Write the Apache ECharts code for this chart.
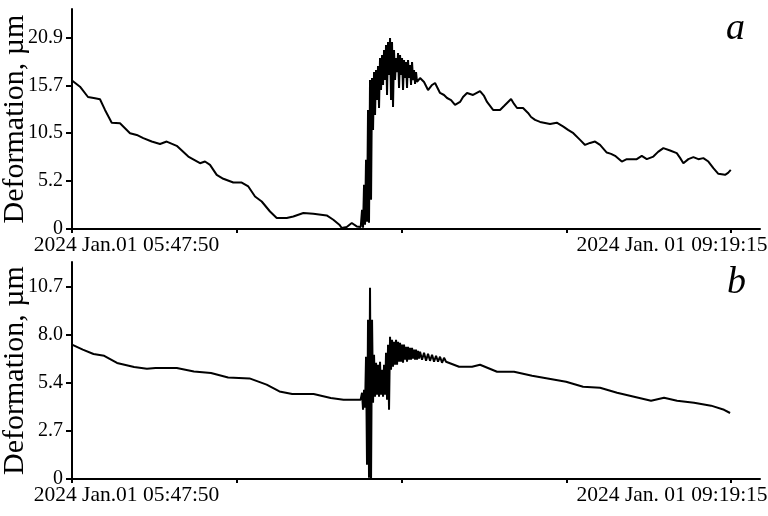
<!DOCTYPE html>
<html>
<head>
<meta charset="utf-8">
<script src="https://cdn.jsdelivr.net/npm/echarts@6/dist/echarts.min.js"></script>
<style>html,body{margin:0;padding:0;background:#fff}#c{width:768px;height:516px}</style>
</head>
<body>
<div id="c"></div>
<script>
// time in minutes since 2024 Jan.01 05:47:50
var timeA = [0, 2.57, 5.13, 7.38, 8.98, 10.59, 12.74, 15.40, 18.61, 20.76, 22.87, 25.57, 28.23, 30.38, 33.59, 37.31, 41.06, 42.67, 44.27, 46.42, 48.54, 51.75, 54.44, 56.56, 58.71, 60.86, 63.52, 65.67, 68.88, 71.00, 74.21, 77.41, 81.71, 83.83, 85.76, 86.53, 88.13, 89.74, 91.34, 92.62,
  93.04, 93.36, 93.68, 94.00, 94.32, 94.64, 94.96, 95.28, 95.60, 95.93, 96.25, 96.57, 96.89, 97.21, 97.53, 97.85, 98.17, 98.49, 98.81, 99.13, 99.46, 99.78, 100.10, 100.42, 100.74, 101.06, 101.38, 101.70, 102.02, 102.34, 102.66, 102.98, 103.30, 103.63, 103.95, 104.27, 104.59, 104.91, 105.23, 105.55, 105.87, 106.19, 106.51, 106.83, 107.15, 107.47, 107.79, 108.12, 108.44, 108.76, 109.08, 109.40, 109.72, 110.04, 110.36, 110.68,
  111.65, 112.93, 114.21, 115.50, 116.46, 118.06, 119.34, 120.31, 121.59, 122.87, 124.48, 125.44, 126.72, 128.65, 130.89, 132.18, 133.14, 135.07, 137.31, 138.59, 139.56, 140.84, 141.80, 142.76, 144.69, 146.29, 147.26, 148.54, 150.14, 151.75, 153.35, 155.50, 157.62, 159.13, 160.83, 162.98, 164.58, 166.18, 167.79, 169.39, 171.54, 172.92, 174.21, 176.36, 177.96, 179.34, 181.17, 182.77, 184.38, 186.49, 188.00, 189.70, 191.85, 194.00, 195.06, 196.12, 197.72, 199.33, 200.93, 202.53, 204.14, 205.74, 207.34, 209.49, 210.46, 211.32];
var valueA = [16.2, 15.52, 14.40, 14.26, 14.15, 12.99, 11.60, 11.54, 10.45, 10.26, 9.91, 9.54, 9.28, 9.54, 9.07, 7.90, 7.18, 7.36, 7.00, 5.91, 5.48, 5.07, 5.07, 4.64, 3.55, 3.00, 1.91, 1.20, 1.20, 1.37, 1.74, 1.67, 1.48, 1.01, 0.47, 0.11, 0.22, 0.65, 0.28, 0.22,
  2.10, 0.14, 4.82, 0.47, 7.54, 0.79, 12.99, 0.69, 16.25, 3.19, 16.47, 10.81, 17.12, 12.44, 17.34, 14.07, 17.77, 13.20, 18.65, 15.16, 18.97, 15.71, 19.52, 16.25, 20.06, 14.62, 20.39, 16.80, 20.83, 14.07, 20.39, 13.31, 19.52, 16.25, 18.65, 17.12, 19.19, 15.38, 18.97, 16.80, 18.65, 15.16, 18.43, 16.47, 18.21, 15.38, 18.43, 16.47, 17.88, 15.71, 18.21, 16.25, 17.34, 15.82, 17.12, 16.04,
  16.47, 16.04, 15.16, 15.71, 15.93, 14.84, 14.62, 14.29, 14.07, 13.53, 13.86, 14.40, 14.84, 14.62, 15.05, 14.51, 13.86, 12.99, 12.99, 13.42, 13.75, 14.18, 13.64, 13.20, 13.20, 12.66, 12.22, 11.90, 11.68, 11.57, 11.46, 11.60, 11.17, 10.81, 10.45, 9.72, 9.17, 9.39, 9.54, 9.17, 8.34, 8.20, 7.98, 7.36, 7.62, 7.62, 7.62, 7.98, 7.62, 7.90, 8.41, 8.82, 8.56, 8.27, 7.76, 7.18, 7.62, 7.84, 7.62, 7.73, 7.36, 6.64, 6.02, 5.91, 6.13, 6.45];

var timeB = [0, 3.46, 6.90, 10.33, 14.44, 19.92, 24.03, 26.79, 33.62, 39.11, 44.59, 50.08, 56.95, 62.43, 66.54, 70.64, 77.51, 83.00, 87.10, 92.59,
  93.04, 93.36, 93.68, 94.00, 94.32, 94.64, 94.96, 95.28, 95.60, 95.93, 96.25, 96.57, 96.89, 97.21, 97.53, 97.85, 98.17, 98.49, 98.81, 99.13, 99.46, 99.78, 100.10, 100.42, 100.74, 101.06, 101.38, 101.70, 102.02, 102.34, 102.66, 102.98, 103.30, 103.63, 103.95, 104.27, 104.59, 104.91, 105.23, 105.55, 105.87, 106.19, 106.51, 106.83, 107.15, 107.47, 107.79, 108.12, 108.44, 108.76, 109.08, 109.40, 109.72, 110.04, 110.36, 110.68, 111.00, 111.33, 111.65,
  112.29, 112.93, 113.57, 114.21, 114.85, 115.50, 116.14, 116.78, 117.42, 118.06, 118.70, 119.34, 119.99,
  124.16, 128.33, 130.89, 136.35, 141.80, 147.58, 153.03, 158.49, 163.94, 169.39, 174.85, 180.30, 185.75, 189.92, 194.09, 199.55, 205.00, 209.17, 211.10];
var valueB = [7.49, 7.21, 6.97, 6.87, 6.47, 6.24, 6.15, 6.19, 6.19, 6.00, 5.91, 5.66, 5.61, 5.26, 4.88, 4.74, 4.74, 4.52, 4.42, 4.42,
  4.81, 3.86, 4.98, 3.97, 6.82, 0.80, 8.88, 0.07, 10.67, 0.00, 8.88, 4.25, 6.93, 4.59, 6.48, 4.70, 6.37, 4.59, 6.54, 4.70, 6.09, 4.59, 6.37, 4.70, 7.04, 4.42, 7.49, 3.86, 7.93, 6.09, 7.76, 6.26, 7.65, 6.37, 7.76, 6.37, 7.65, 6.54, 7.60, 6.54, 7.49, 6.48, 7.49, 6.65, 7.37, 6.54, 7.37, 6.65, 7.32, 6.65, 7.32, 6.71, 7.21, 6.65, 7.21, 6.65, 7.15, 6.71, 7.10,
  6.65, 7.04, 6.59, 6.98, 6.59, 6.93, 6.54, 6.87, 6.54, 6.82, 6.48, 6.76, 6.54,
  6.26, 6.26, 6.37, 5.98, 5.98, 5.76, 5.59, 5.42, 5.14, 5.09, 4.81, 4.59, 4.36, 4.53, 4.36, 4.25, 4.09, 3.86, 3.68];

var xTicks = [0, 52.854, 105.708, 158.5625, 211.4167];
var xLabelValues = [0, 211.4167];
var xLabels = ['2024 Jan.01 05:47:50', '2024 Jan. 01 09:19:15'];
var yTicksA = [0, 5.225, 10.45, 15.675, 20.9];
var yLabelsA = ['0', '5.2', '10.5', '15.7', '20.9'];
var yTicksB = [0, 2.675, 5.35, 8.025, 10.7];
var yLabelsB = ['0', '2.7', '5.4', '8.0', '10.7'];
var panelLetters = ['a', 'b'];
var yName = 'Deformation, \u00b5m';

function pairs(t, v) {
  var out = [];
  var n = Math.min(t.length, v.length);
  for (var i = 0; i < n; i++) out.push([t[i], v[i]]);
  return out;
}
function lookup(ticks, labels) {
  return function (val) {
    var best = 0, d = Infinity;
    for (var i = 0; i < ticks.length; i++) {
      var dd = Math.abs(ticks[i] - val);
      if (dd < d) { d = dd; best = i; }
    }
    return labels[best];
  };
}
var FONT = '"Liberation Serif", "Times New Roman", serif';
var black = '#000';

function makeX(gridIndex) {
  return {
    type: 'value', gridIndex: gridIndex, min: 0, max: 220.7,
    axisLine: { show: true, onZero: false, lineStyle: { color: black, width: 2 } },
    axisTick: { show: true, inside: false, length: 4, customValues: xTicks, lineStyle: { color: black, width: 2 } },
    splitLine: { show: false },
    axisLabel: {
      show: true, customValues: xLabelValues, margin: 5,
      color: black, fontFamily: FONT, fontSize: 21.5,
      formatter: function (v) {
        return Math.abs(v) < 1e-6 ? '{f|' + xLabels[0] + '}' : '{l|' + xLabels[1] + '}';
      },
      rich: {
        f: { padding: [0, 0, 0, 109], color: black, fontFamily: FONT, fontSize: 21.5 },
        l: { padding: [0, 118, 0, 0], color: black, fontFamily: FONT, fontSize: 21.5 }
      }
    }
  };
}
function makeY(gridIndex, max, ticks, labels) {
  return {
    type: 'value', gridIndex: gridIndex, min: 0, max: max,
    name: yName, nameLocation: 'middle', nameGap: 42, nameMoveOverlap: false,
    nameTextStyle: { color: black, fontFamily: FONT, fontSize: 30 },
    axisLine: { show: true, onZero: false, lineStyle: { color: black, width: 2 } },
    axisTick: { show: true, inside: false, length: 6, customValues: ticks, lineStyle: { color: black, width: 2 } },
    splitLine: { show: false },
    axisLabel: {
      show: true, customValues: ticks, margin: 9,
      color: black, fontFamily: FONT, fontSize: 20,
      formatter: lookup(ticks, labels)
    }
  };
}

var chart = echarts.init(document.getElementById('c'), null, { renderer: 'canvas' });
chart.setOption({
  animation: false,
  backgroundColor: '#fff',
  grid: [
    { left: 72, top: 9, width: 688, height: 220, containLabel: false, outerBoundsMode: 'none' },
    { left: 72, top: 262, width: 688, height: 217, containLabel: false, outerBoundsMode: 'none' }
  ],
  xAxis: [makeX(0), makeX(1)],
  yAxis: [makeY(0, 24, yTicksA, yLabelsA), makeY(1, 12.1, yTicksB, yLabelsB)],
  graphic: [
    { type: 'text', left: 726, top: 10, style: { text: panelLetters[0], font: 'italic 38px ' + FONT, fill: black } },
    { type: 'text', left: 727, top: 264, style: { text: panelLetters[1], font: 'italic 38px ' + FONT, fill: black } }
  ],
  series: [
    { type: 'line', xAxisIndex: 0, yAxisIndex: 0, data: pairs(timeA, valueA), showSymbol: false,
      lineStyle: { color: black, width: 2 }, itemStyle: { color: black } },
    { type: 'line', xAxisIndex: 1, yAxisIndex: 1, data: pairs(timeB, valueB), showSymbol: false,
      lineStyle: { color: black, width: 2 }, itemStyle: { color: black } }
  ]
});
</script>
</body>
</html>
